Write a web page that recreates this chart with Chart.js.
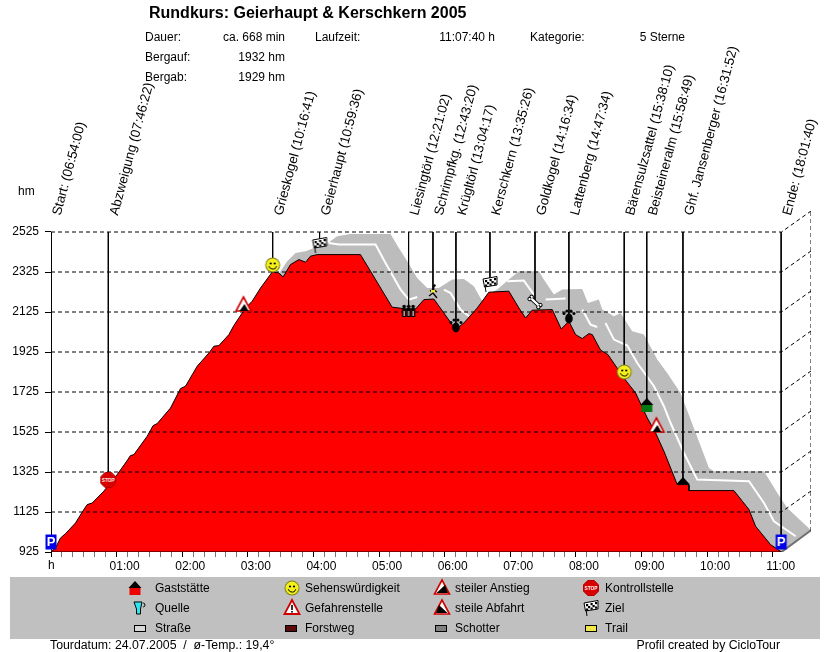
<!DOCTYPE html>
<html>
<head>
<meta charset="utf-8">
<title>Rundkurs: Geierhaupt & Kerschkern 2005</title>
<script src="https://cdn.jsdelivr.net/npm/chart.js@4"></script>
<style>
html, body { margin: 0; padding: 0; background: #fff; }
#wrap { position: relative; width: 830px; height: 652px; overflow: hidden; font: 12px "Liberation Sans", Arial, sans-serif; color: #000; }
#chart { position: absolute; left: 0; top: 0; }
.t { position: absolute; white-space: pre; line-height: 14px; }
#legendBand { position: absolute; left: 10px; top: 577px; width: 810px; height: 62px; background: #c0c0c0; }
#wrap canvas.icon { position: absolute; }
</style>
</head>
<body>
<div id="wrap">
  <div id="legendBand"></div>
  <canvas id="chart" width="830" height="652"></canvas>
</div>
<script>
// elevation profile, minutes since start / hm
const profileMinutes = [0, 4.1, 8.7, 13.3, 22.4, 28.5, 33.1, 37.7, 48.3, 60.5, 68.1, 72.7, 75.8, 88, 93.4, 97.1, 109.3, 118.4, 123, 133.7, 144.4, 149, 153.5, 162.7, 167.2, 177.9, 184, 191.6, 202.3, 208.4, 212.3, 219, 226.7, 232.8, 237.3, 243.4, 283, 292.2, 312, 319.7, 325.8, 333.4, 341, 350.1, 359.3, 370, 377.6, 389.8, 400.4, 418.7, 427.9, 434, 440, 458.4, 466.6, 473.6, 479.7, 485.8, 491.9, 495, 502.6, 509.3, 523.9, 534.6, 545.3, 552.9, 560.5, 572.7, 583.3, 583.4, 624.5, 638.3, 644.3, 658, 668];
const profileElev = [925, 945, 995, 1017, 1070, 1124, 1162, 1170, 1229, 1312, 1370, 1407, 1412, 1504, 1557, 1567, 1645, 1742, 1754, 1854, 1920, 1954, 1957, 2012, 2057, 2145, 2179, 2245, 2325, 2320, 2300, 2362, 2387, 2374, 2404, 2412, 2412, 2329, 2149, 2144, 2137, 2140, 2187, 2190, 2120, 2037, 2070, 2145, 2224, 2229, 2145, 2095, 2134, 2137, 2040, 2079, 2012, 1992, 2017, 2012, 1934, 1912, 1795, 1720, 1595, 1520, 1429, 1262, 1262, 1232, 1232, 1137, 1054, 962, 925];

// grey surface band, shifted back in the 3D view
const bandMinutes = [206.8, 209.9, 216, 223.6, 232.8, 240.4, 252.6, 261.7, 273.9, 310.5, 318.1, 325.8, 334.9, 344, 354.7, 366.9, 377.6, 386.7, 394.4, 398.9, 408.1, 418.7, 427.9, 446.2, 450.7, 459.9, 467.5, 485.8, 491, 501, 504.1, 514.8, 520.9, 531.5, 542.2, 554.4, 563.5, 575.7, 584.9, 601.7, 606.2, 652, 664.2, 673.3, 695];
const bandElev = [2304, 2329, 2379, 2420, 2429, 2445, 2467, 2504, 2515, 2515, 2445, 2379, 2295, 2245, 2245, 2287, 2290, 2254, 2179, 2212, 2237, 2287, 2329, 2329, 2287, 2212, 2237, 2240, 2170, 2187, 2137, 2104, 2120, 2029, 2012, 1887, 1820, 1720, 1587, 1345, 1329, 1329, 1220, 1145, 1034];
const floorMinutes = [668, 695];
const floorElev = [925, 1034];

// white road line, null = gap
const roadMinutes = [254.1, 263.3, 296.8, 305.9, 319.7, 327.3, 334.9, 335, 359.3, 365.4, 374.5, 382.2, 383, 417.2, 432.4, 441.6, 442, 452.3, 470.6, 471, 485.8, 493.4, 499.5, 500, 507.1, 514.8, 527, 536.1, 551.4, 560.5, 566.6, 578.8, 591, 638.3, 652, 661.1, 681];
const roadElev = [2470, 2462, 2462, 2370, 2237, 2187, 2200, null, 2237, 2220, 2137, 2104, null, 2279, 2282, 2212, null, 2187, 2192, null, 2137, 2062, 2050, null, 2070, 1987, 1957, 1870, 1754, 1654, 1570, 1420, 1287, 1279, 1170, 1079, 1004];

// waypoints
const wayNames = ['Start: (06:54:00)', 'Abzweigung (07:46:22)', 'Grieskogel (10:16:41)', 'Geierhaupt (10:59:36)', 'Liesingtörl (12:21:02)', 'Schrimpfkg. (12:43:20)', 'Krügltörl (13:04:17)', 'Kerschkern (13:35:26)', 'Goldkogel (14:16:34)', 'Lattenberg (14:47:34)', 'Bärensulzsattel (15:38:10)', 'Beisteineralm (15:58:49)', 'Ghf. Jansenberger (16:31:52)', 'Ende: (18:01:40)'];
const wayMinutes = [0, 52.4, 202.7, 245.6, 327, 349.3, 370.3, 401.4, 442.6, 473.6, 524.2, 544.8, 577.9, 667.7];
const wayElev = [975, 1285, 2360, 2460, 2130, 2225, 2060, 2265, 2175, 2105, 1825, 1660, 1265, 975];
const wayIcons = ['parking', 'stop', 'smile', 'flag', 'hikers', 'runner', 'paw', 'flag', 'bone', 'paw', 'smile', 'house', 'roof', 'parking'];

// markers without a label
const extraMinutes = [176, 553.6];
const extraElev = [2160, 1555];
const extraIcons = ['warn', 'warn'];

// axes
const elevTicks = [925, 1125, 1325, 1525, 1725, 1925, 2125, 2325, 2525];
const hourLabels = ['01:00', '02:00', '03:00', '04:00', '05:00', '06:00', '07:00', '08:00', '09:00', '10:00', '11:00'];
const totalMinutes = 668;
const depthMinutes = 27;
const depthElev = 105;

function makeIcon(name) {
  const c = document.createElement('canvas');
  c.width = 20; c.height = 20;
  c.className = 'icon';
  const g = c.getContext('2d');
  g.translate(10, 10);
  g.lineWidth = 1;
  const poly = (pts, fill, stroke) => {
    g.beginPath();
    pts.forEach((p, i) => i ? g.lineTo(p[0], p[1]) : g.moveTo(p[0], p[1]));
    g.closePath();
    if (fill) { g.fillStyle = fill; g.fill(); }
    if (stroke) { g.strokeStyle = stroke; g.stroke(); }
  };
  const dot = (x, y, r, fill) => { g.beginPath(); g.ellipse(x, y, r, r, 0, 0, 7); g.fillStyle = fill; g.fill(); };
  if (name === 'parking') {
    g.fillStyle = '#0000e6'; g.fillRect(-5.5, -7.5, 11, 15);
    g.fillStyle = '#fff'; g.font = 'bold 13px "Liberation Sans"'; g.textAlign = 'center'; g.textBaseline = 'middle';
    g.fillText('P', 0, 0);
  } else if (name === 'stop') {
    const a = 3.2, b = 7.5;
    poly([[-a, -b], [a, -b], [b, -a], [b, a], [a, b], [-a, b], [-b, a], [-b, -a]], '#d80000', '#b00000');
    g.fillStyle = '#fff'; g.font = 'bold 6px "Liberation Sans"'; g.textAlign = 'center'; g.textBaseline = 'middle';
    g.fillText('STOP', 0, 0.5, 13);
  } else if (name === 'smile') {
    dot(0, 0, 7.5, '#80801a'); dot(0, 0, 6.5, '#f4f01c');
    dot(-2, -1.5, 1.1, '#000'); dot(2, -1.5, 1.1, '#000');
    g.beginPath(); g.arc(0, 0, 4, 0.3, Math.PI - 0.3); g.strokeStyle = '#000'; g.stroke();
  } else if (name === 'warn' || name === 'warnHill' || name === 'warnDown') {
    g.lineWidth = 1.6;
    poly([[0, -8], [7.5, 6], [-7.5, 6]], '#fff', '#d00000');
    if (name === 'warn') poly([[1, -1], [5, 6], [-4, 6]], '#000');
    else if (name === 'warnHill') poly([[3, -3], [6, 5], [-5.5, 5]], '#000');
    else poly([[-3, -3], [5.5, 5], [-6, 5]], '#000');
  } else if (name === 'warnDanger') {
    g.lineWidth = 1.8;
    poly([[0, -8], [7.5, 6], [-7.5, 6]], '#fff', '#d00000');
    g.fillStyle = '#000'; g.fillRect(-0.8, -3, 1.6, 5); g.fillRect(-0.8, 3, 1.6, 1.6);
  } else if (name === 'flag') {
    g.strokeStyle = '#000'; g.beginPath(); g.moveTo(-6, -5); g.lineTo(-4, 8); g.stroke();
    poly([[-7, -5], [7, -7.5], [7, 1], [-5.5, 3]], '#fff', '#000');
    g.fillStyle = '#000';
    [[-5, -4], [-0.5, -5], [4, -6], [-3, -2], [1.5, -3], [-5, 0.5], [-0.5, -0.5], [4, -1.5]].forEach(p => g.fillRect(p[0], p[1], 2.2, 2.2));
  } else if (name === 'house' || name === 'houseRed' || name === 'roof') {
    if (name !== 'roof') { g.fillStyle = name === 'house' ? '#007a10' : '#ee0000'; g.fillRect(-5.5, 0, 11, 7); }
    poly([[0, -7], [6.5, 0], [-6.5, 0]], '#000');
  } else if (name === 'hikers') {
    [-4.5, 0, 4.5].forEach(x => {
      dot(x, -4.5, 1.8, '#000');
      g.fillStyle = '#000'; g.fillRect(x - 2, -3, 4, 9);
      g.fillStyle = '#fff'; g.fillRect(x - 0.5, 0, 1, 5);
    });
  } else if (name === 'runner') {
    g.strokeStyle = '#000'; g.lineWidth = 1.3;
    g.beginPath();
    g.moveTo(1, -6); g.lineTo(0, 1); g.lineTo(-4, 4); g.moveTo(0, 1); g.lineTo(4, 6);
    g.moveTo(-3, -1); g.lineTo(1, -2); g.lineTo(4, 0);
    g.stroke();
    g.fillStyle = '#f4e81c'; g.fillRect(-2, -2, 4, 2.4);
    dot(1.5, -6.5, 1.2, '#000');
  } else if (name === 'paw') {
    g.beginPath(); g.ellipse(0, 2.5, 3.8, 5, 0, 0, 7); g.fillStyle = '#000'; g.fill();
    dot(-5, -2.5, 1.5, '#000'); dot(-2, -5, 1.5, '#000'); dot(2, -5, 1.5, '#000'); dot(5, -2.5, 1.5, '#000');
  } else if (name === 'bone') {
    g.rotate(0.75);
    g.fillStyle = '#fff'; g.strokeStyle = '#000';
    g.fillRect(-5, -1.5, 10, 3); g.strokeRect(-5, -1.5, 10, 3);
    [[-6, -1.5], [-6, 1.5], [6, -1.5], [6, 1.5]].forEach(p => {
      g.beginPath(); g.arc(p[0], p[1], 1.7, 0, 7); g.fill(); g.stroke();
    });
    g.fillRect(-5, -1, 10, 2);
  } else if (name === 'tap') {
    poly([[-4, -6], [4, -6], [2.5, 1], [2.5, 6], [-1.5, 6], [-1.5, 1]], '#2ee6f0', '#000');
    g.strokeStyle = '#000'; g.beginPath(); g.arc(5, -3, 2, -1.5, 1.5); g.stroke();
  } else {
    // surface swatches
    const fills = { road: '#d8d8d8', forest: '#5a0a0a', gravel: '#808080', trail: '#f0e84a' };
    g.fillStyle = fills[name]; g.fillRect(-5.5, -2.5, 11, 6);
    g.strokeStyle = '#000'; g.strokeRect(-5.5, -2.5, 11, 6);
  }
  return c;
}

// small helper for the fixed texts around the chart
const wrap = document.getElementById('wrap');
function addText(text, x, y, opts) {
  const o = opts || {};
  const el = document.createElement('div');
  el.className = 't';
  el.textContent = text;
  if (o.right) { el.style.right = (830 - x) + 'px'; } else { el.style.left = x + 'px'; }
  el.style.top = (y - 7) + 'px';
  if (o.css) el.style.cssText += o.css;
  wrap.appendChild(el);
}

addText('Rundkurs: Geierhaupt & Kerschkern 2005', 149, 13, { css: 'font-weight:bold;font-size:16px;line-height:14px' });
addText('Dauer:', 145, 37);
addText('ca. 668 min', 285, 37, { right: true });
addText('Bergauf:', 145, 57);
addText('1932 hm', 285, 57, { right: true });
addText('Bergab:', 145, 77);
addText('1929 hm', 285, 77, { right: true });
addText('Laufzeit:', 315, 37);
addText('11:07:40 h', 495, 37, { right: true });
addText('Kategorie:', 530, 37);
addText('5 Sterne', 685, 37, { right: true });
addText('hm', 18, 191);
addText('h', 48, 565);
addText('Tourdatum: 24.07.2005  /  ø-Temp.: 19,4°', 50, 645, { css: 'font-size:12.3px' });
addText('Profil created by CicloTour', 780, 645, { right: true, css: 'font-size:12.3px' });

const legendItems = [
  ['Gaststätte', 'houseRed', 135, 155, 588], ['Quelle', 'tap', 138, 155, 608], ['Straße', 'road', 140, 155, 628],
  ['Sehenswürdigkeit', 'smile', 292, 305, 588], ['Gefahrenstelle', 'warnDanger', 292, 305, 608], ['Forstweg', 'forest', 291, 305, 628],
  ['steiler Anstieg', 'warnHill', 442, 455, 588], ['steile Abfahrt', 'warnDown', 442, 455, 608], ['Schotter', 'gravel', 441, 455, 628],
  ['Kontrollstelle', 'stop', 591, 605, 588], ['Ziel', 'flag', 591, 605, 608], ['Trail', 'trail', 591, 605, 628]
];
legendItems.forEach(it => {
  const ic = makeIcon(it[1]);
  ic.style.left = (it[2] - 10) + 'px';
  ic.style.top = (it[4] - 10) + 'px';
  wrap.appendChild(ic);
  addText(it[0], it[3], it[4]);
});

const toPoints = (xs, ys) => xs.map((x, i) => ({ x: x, y: ys[i] }));

// dashed grid incl. the receding side wall
const gridPoints = [];
elevTicks.slice(1).forEach(v => {
  gridPoints.push({ x: 0, y: v }, { x: totalMinutes, y: v }, { x: totalMinutes + depthMinutes, y: v + depthElev }, { x: 0, y: null });
});
gridPoints.push({ x: totalMinutes + depthMinutes, y: 925 + depthElev }, { x: totalMinutes + depthMinutes, y: 2525 + depthElev });

const wayLines = [];
wayMinutes.forEach((m, i) => { wayLines.push({ x: m, y: 2525 }, { x: m, y: wayElev[i] }, { x: m, y: null }); });

const rotatedLabels = {
  id: 'rotatedLabels',
  afterDatasetsDraw(chart) {
    const ctx = chart.ctx;
    ctx.save();
    ctx.fillStyle = '#000';
    ctx.font = '13.3px "Liberation Sans"';
    ctx.textBaseline = 'middle';
    wayNames.forEach((n, i) => {
      ctx.save();
      ctx.translate(chart.scales.x.getPixelForValue(wayMinutes[i]) + 6, 215);
      ctx.rotate(-75 * Math.PI / 180);
      ctx.fillText(n, 0, 0);
      ctx.restore();
    });
    ctx.restore();
  }
};

Chart.defaults.font.family = '"Liberation Sans", Arial, sans-serif';
Chart.defaults.font.size = 12;
Chart.defaults.color = '#000';

new Chart(document.getElementById('chart'), {
  type: 'line',
  data: {
    datasets: [
      { label: 'Band', data: toPoints(bandMinutes, bandElev), borderWidth: 0, pointRadius: 0, backgroundColor: '#bcbcbc', fill: 'start', order: 10 },
      { label: 'Floor', data: toPoints(floorMinutes, floorElev), borderColor: '#707070', borderWidth: 2, pointRadius: 0, backgroundColor: '#fff', fill: 'start', order: 9 },
      { label: 'Road', data: toPoints(roadMinutes, roadElev), borderColor: '#fff', borderWidth: 2, pointRadius: 0, fill: false, spanGaps: false, order: 8 },
      { label: 'Profil', data: toPoints(profileMinutes, profileElev), borderColor: '#000', borderWidth: 1, pointRadius: 0, backgroundColor: '#ff0000', fill: 'start', order: 6 },
      { label: 'Grid', data: gridPoints, borderColor: '#000', borderWidth: 1, borderDash: [4, 3], pointRadius: 0, fill: false, spanGaps: false, order: 5 },
      { label: 'Axes', data: [{ x: 0, y: 2525 }, { x: 0, y: 925 }, { x: totalMinutes, y: 925 }], borderColor: '#000', borderWidth: 1, pointRadius: 0, fill: false, order: 4 },
      { label: 'Waypoints', data: wayLines, borderColor: '#000', borderWidth: 1, pointRadius: 0, fill: false, spanGaps: false, order: 3 },
      { label: 'Icons', data: toPoints(wayMinutes.concat(extraMinutes), wayElev.concat(extraElev)), showLine: false, pointRadius: 10, pointHoverRadius: 10, pointStyle: wayIcons.concat(extraIcons).map(makeIcon), order: 1, clip: false }
    ]
  },
  options: {
    responsive: false,
    animation: false,
    events: [],
    layout: { padding: { top: 211, right: 19, left: 0, bottom: 0 } },
    plugins: { legend: { display: false }, tooltip: { enabled: false } },
    scales: {
      x: {
        type: 'linear',
        min: 0,
        max: 695,
        afterFit(s) { s.height = 100; },
        afterBuildTicks(s) {
          const t = [];
          for (let m = 0; m <= 660; m += 10) t.push({ value: m });
          s.ticks = t;
        },
        border: { display: false },
        grid: {
          drawOnChartArea: false,
          tickLength: 5,
          tickColor: c => (c.tick && c.tick.value % 60 === 0) ? '#000' : '#777'
        },
        ticks: {
          autoSkip: false,
          maxRotation: 0,
          minRotation: 0,
          padding: 2,
          labelOffset: 8,
          callback: v => (v > 0 && v % 60 === 0) ? hourLabels[v / 60 - 1] : ''
        }
      },
      y: {
        type: 'linear',
        min: 925,
        max: 2630,
        afterFit(s) { s.width = 51; },
        afterBuildTicks(s) { s.ticks = elevTicks.map(v => ({ value: v })); },
        border: { display: false },
        grid: { drawOnChartArea: false, tickLength: 6, tickColor: '#000' },
        ticks: { padding: 6, callback: v => String(v) }
      }
    }
  },
  plugins: [rotatedLabels]
});
</script>
</body>
</html>
